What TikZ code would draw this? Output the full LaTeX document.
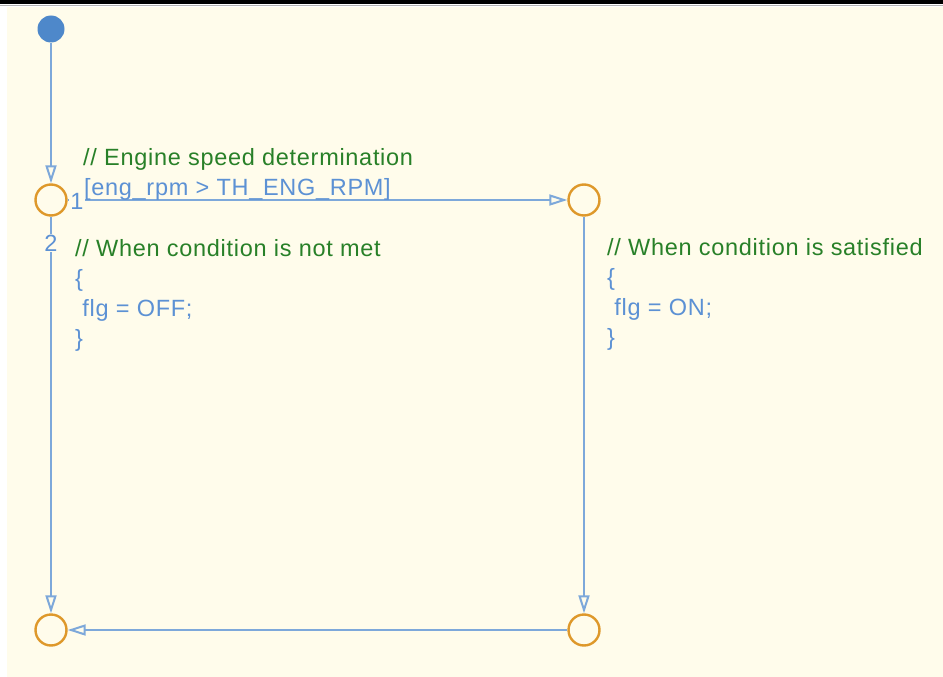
\documentclass[tikz,border=0pt]{standalone}
\usepackage{fontspec}
\setmainfont{Liberation Sans}[LetterSpace=3]
\usetikzlibrary{arrows.meta}
\definecolor{chartbg}{RGB}{255,252,235}
\definecolor{juncorange}{RGB}{222,152,42}
\definecolor{transblue}{RGB}{125,168,218}
\definecolor{dotblue}{RGB}{78,136,202}
\definecolor{cmtgreen}{RGB}{40,128,40}
\definecolor{codeblue}{RGB}{92,145,212}

\begin{document}
\begin{tikzpicture}[x=1pt, y=-1pt,
  junc/.style={circle, draw=juncorange, line width=2.4pt, fill=chartbg,
               minimum size=31pt, inner sep=0pt},
  initdot/.style={circle, fill=dotblue, minimum size=27pt, inner sep=0pt},
  trans/.style={draw=transblue, line width=2pt,
                -{Triangle[open, length=18pt, width=11pt]}},
  cmt/.style={anchor=base west, inner sep=0pt, text=cmtgreen,
              font=\fontsize{23.5}{30}\selectfont},
  act/.style={anchor=base west, inner sep=0pt, text=codeblue,
              font=\fontsize{23.5}{30}\selectfont},
  prio/.style={fill=chartbg, inner sep=1pt, text=codeblue,
               font=\fontsize{23.5}{30}\selectfont}
]
  % frame and chart background
  \useasboundingbox (0,0) rectangle (943,677);
  \fill[white] (0,0) rectangle (943,677);
  \fill[black] (0,0) rectangle (943,4);
  \draw[gray!60, line width=1pt] (0,5.5) -- (943,5.5);
  \fill[chartbg] (7,7) rectangle (943,677);

  % default transition and junctions
  \node[initdot] (init) at (51,29)  {};
  \node[junc]    (jA)   at (51,200)  {};
  \node[junc]    (jB)   at (584,200) {};
  \node[junc]    (jC)   at (51,630)  {};
  \node[junc]    (jD)   at (584,630) {};

  \draw[trans] (init) -- (jA);
  \draw[trans] (jA) -- (jB);
  \draw[trans] (jA) -- (jC);
  \draw[trans] (jB) -- (jD);
  \draw[trans] (jD) -- (jC);

  % execution order
  \node[prio] (ord1) at (77,201) {1};
  \node[prio] (ord2) at (51,243) {2};

  % condition on the upper transition
  \node[cmt] (cmtTop) at (83,165) {// Engine speed determination};
  \node[act] (cond)   at (84,195) {[eng\_rpm > TH\_ENG\_RPM]};

  % action when condition is not met
  \node[cmt] (cmtL)  at (75,256) {// When condition is not met};
  \node[act] (openL) at (75,286) {\{};
  \node[act] (actL)  at (75,316) {\ flg = OFF;};
  \node[act] (shutL) at (75,346) {\}};

  % action when condition is satisfied
  \node[cmt] (cmtR)  at (607,255) {// When condition is satisfied};
  \node[act] (openR) at (607,285) {\{};
  \node[act] (actR)  at (607,315) {\ flg = ON;};
  \node[act] (shutR) at (607,345) {\}};
\end{tikzpicture}
\end{document}
